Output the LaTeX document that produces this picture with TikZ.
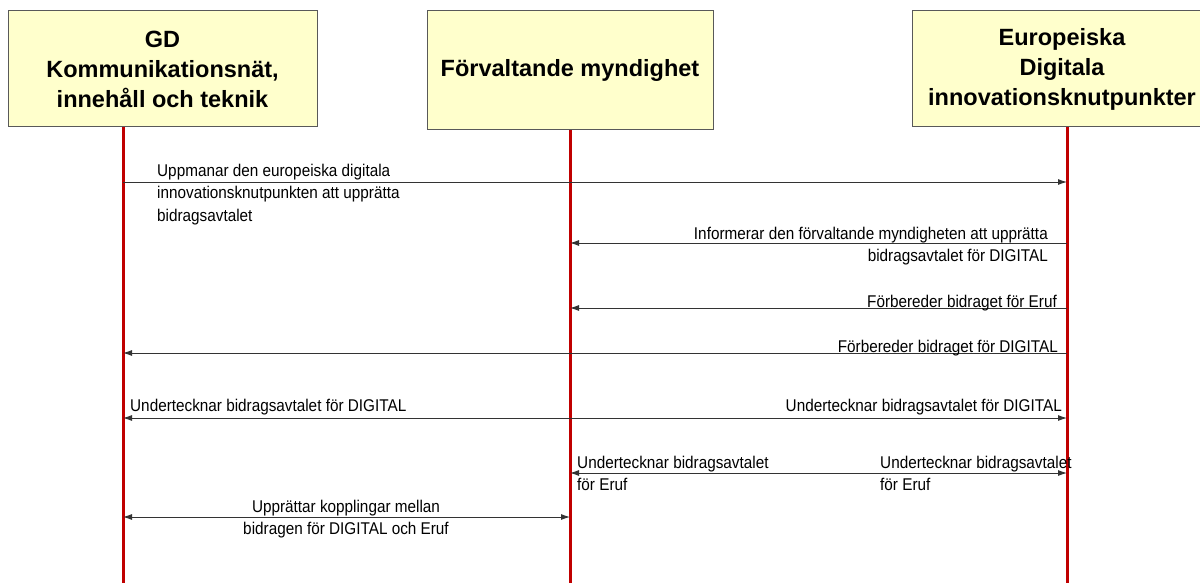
\documentclass[tikz,border=0pt]{standalone}
\usepackage{fontspec}
\setmainfont{Liberation Sans}
\newfontfamily\narrowfont[FakeStretch=0.9]{Liberation Sans}
\usetikzlibrary{arrows.meta}
\definecolor{boxfill}{HTML}{FFFFCC}
\definecolor{lifered}{HTML}{C00000}
\begin{document}
\begin{tikzpicture}[x=1pt,y=-1pt,
    actor/.style={draw=black!65, fill=boxfill, line width=1pt, align=center,
        font=\fontsize{23.5}{30}\selectfont\bfseries, inner sep=0pt},
    life/.style={draw=lifered, line width=3pt},
    msg/.style={draw=black!80, line width=0.9pt, -{Latex[length=9pt,width=6pt]}},
    twoway/.style={msg, {Latex[length=9pt,width=6pt]}-{Latex[length=9pt,width=6pt]}},
    txt/.style={font=\narrowfont\fontsize{17}{22.5}\selectfont, inner sep=0pt,
        execute at begin node={\strut}}]
    \clip (0,0) rectangle (1200,583);
    \fill[white] (0,0) rectangle (1200,583);
    \coordinate (gdl) at (123,127);
    \coordinate (fml) at (570,130);
    \coordinate (edl) at (1067,127);
    \coordinate (gdb) at (123,583);
    \coordinate (fmb) at (570,583);
    \coordinate (edb) at (1067,583);
    \draw[life] (gdl) -- (gdb);
    \draw[life] (fml) -- (fmb);
    \draw[life] (edl) -- (edb);
    \node[actor, minimum width=309pt, minimum height=116pt] (gd) at (162.5,69)
        {GD\\Kommunikationsnät,\\innehåll och teknik};
    \node[actor, minimum width=286pt, minimum height=119pt] (fm) at (570,70.5)
        {Förvaltande myndighet};
    \node[actor, minimum width=300pt, minimum height=116pt] (ed) at (1062,69)
        {Europeiska\\Digitala\\innovationsknutpunkter};
    \draw[msg] (gdl |- 0,182) -- (edl |- 0,182);
    \node[txt, anchor=north west, align=left] (t1) at (157,163.5)
        {Uppmanar den europeiska digitala\\innovationsknutpunkten att upprätta\\bidragsavtalet};
    \draw[msg] (edl |- 0,243) -- (fml |- 0,243);
    \node[txt, anchor=north east, align=right] (t2) at (1048,226.5)
        {Informerar den förvaltande myndigheten att upprätta\\bidragsavtalet för DIGITAL};
    \draw[msg] (edl |- 0,308) -- (fml |- 0,308);
    \node[txt, anchor=north east] (t3) at (1057,291.5) {Förbereder bidraget för Eruf};
    \draw[msg] (edl |- 0,353) -- (gdl |- 0,353);
    \node[txt, anchor=north east] (t4) at (1058,336.5) {Förbereder bidraget för DIGITAL};
    \draw[twoway] (gdl |- 0,418) -- (edl |- 0,418);
    \node[txt, anchor=north west] (t5a) at (130,395.5) {Undertecknar bidragsavtalet för DIGITAL};
    \node[txt, anchor=north east] (t5b) at (1062,395.5) {Undertecknar bidragsavtalet för DIGITAL};
    \draw[twoway] (fml |- 0,473) -- (edl |- 0,473);
    \node[txt, anchor=north west, align=left] (t6a) at (577,455.5)
        {Undertecknar bidragsavtalet\\för Eruf};
    \node[txt, anchor=north west, align=left] (t6b) at (880,455.5)
        {Undertecknar bidragsavtalet\\för Eruf};
    \draw[twoway] (gdl |- 0,517) -- (fml |- 0,517);
    \node[txt, anchor=north, align=center] (t7) at (346,499.5)
        {Upprättar kopplingar mellan\\bidragen för DIGITAL och Eruf};
\end{tikzpicture}
\end{document}
